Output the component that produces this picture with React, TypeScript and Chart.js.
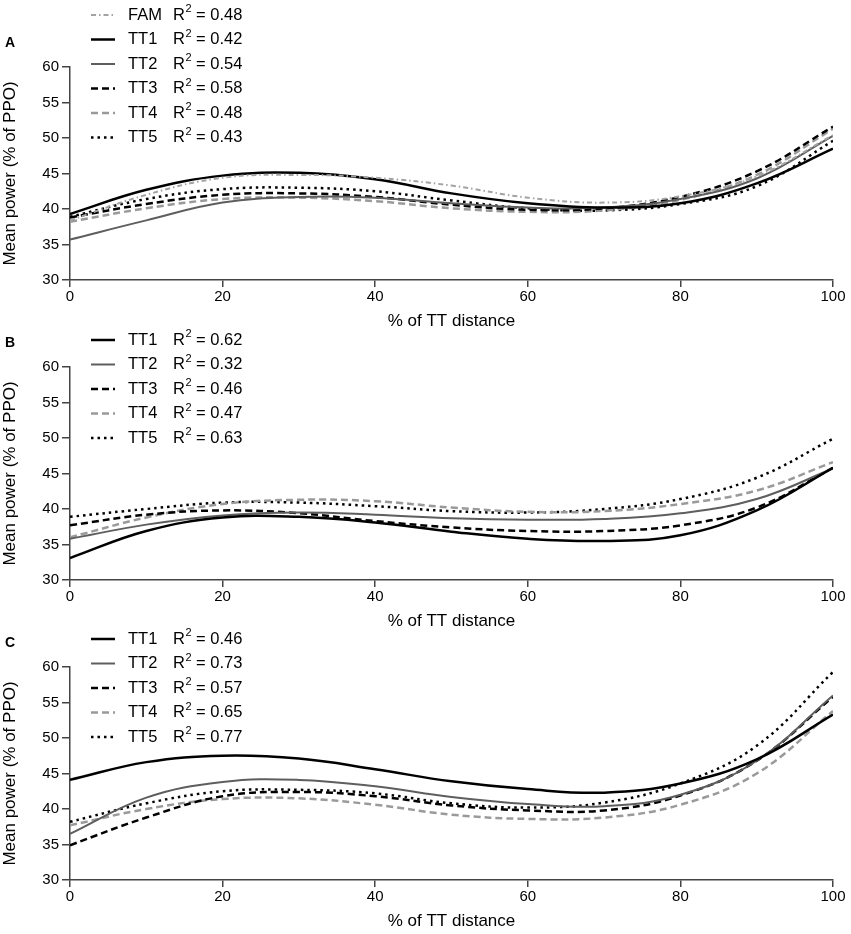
import React, { useEffect, useRef } from 'react';
import { Chart, registerables } from 'chart.js';

Chart.register(...registerables);

// % of TT distance where curve values were read
const xPct = [0, 10, 20, 30, 40, 50, 60, 70, 80, 90, 100];

// panel A
const namesA = ['FAM', 'TT1', 'TT2', 'TT3', 'TT4', 'TT5'];
const r2A = ['0.48', '0.42', '0.54', '0.58', '0.48', '0.43'];
const aFAM = [38.4, 42.0, 44.4, 44.8, 44.4, 43.3, 41.6, 40.9, 41.8, 44.6, 50.4];
const aTT1 = [39.3, 42.7, 44.7, 45.1, 44.2, 42.2, 40.8, 40.2, 40.8, 43.6, 48.5];
const aTT2 = [35.7, 38.4, 40.9, 41.7, 41.6, 40.8, 40.2, 40.2, 41.4, 44.3, 50.3];
const aTT3 = [38.8, 40.7, 42.0, 42.2, 41.7, 40.6, 39.9, 40.1, 41.7, 45.3, 51.6];
const aTT4 = [38.2, 40.1, 41.4, 41.6, 41.1, 40.1, 39.6, 39.8, 41.3, 44.8, 51.3];
const aTT5 = [38.9, 41.4, 42.8, 43.0, 42.5, 41.2, 40.1, 39.8, 40.7, 43.2, 49.6];

// panel B
const namesB = ['TT1', 'TT2', 'TT3', 'TT4', 'TT5'];
const r2B = ['0.62', '0.32', '0.46', '0.47', '0.63'];
const bTT1 = [33.1, 36.9, 38.8, 38.9, 38.1, 36.8, 35.8, 35.5, 36.3, 39.8, 45.8];
const bTT2 = [35.8, 37.8, 39.1, 39.5, 39.2, 38.7, 38.5, 38.6, 39.4, 41.4, 45.7];
const bTT3 = [37.7, 39.2, 39.8, 39.4, 38.3, 37.4, 36.9, 36.9, 37.7, 40.2, 45.8];
const bTT4 = [36.0, 38.8, 40.7, 41.3, 41.1, 40.2, 39.6, 39.7, 40.7, 42.6, 46.6];
const bTT5 = [38.9, 40.0, 40.9, 40.9, 40.4, 39.7, 39.5, 40.0, 41.4, 44.4, 49.9];

// panel C
const namesC = ['TT1', 'TT2', 'TT3', 'TT4', 'TT5'];
const r2C = ['0.46', '0.73', '0.57', '0.65', '0.77'];
const cTT1 = [44.1, 46.6, 47.5, 47.1, 45.6, 43.9, 42.8, 42.3, 43.6, 47.0, 53.3];
const cTT2 = [36.5, 41.6, 43.8, 44.1, 43.2, 41.7, 40.7, 40.4, 42.0, 46.8, 56.0];
const cTT3 = [34.9, 38.8, 41.8, 42.4, 41.8, 40.5, 39.8, 39.8, 41.9, 46.8, 55.8];
const cTT4 = [37.7, 40.0, 41.4, 41.5, 40.6, 39.2, 38.6, 38.8, 40.6, 45.0, 53.8];
const cTT5 = [38.2, 40.8, 42.5, 42.7, 42.2, 40.8, 40.2, 40.9, 43.6, 48.9, 59.3];

const lineStyles: Record<string, { color: string; width: number; dash: number[] }> = {
  FAM: { color: '#a3a3a3', width: 2, dash: [5, 3, 1.5, 3] },
  TT1: { color: '#000000', width: 2.5, dash: [] },
  TT2: { color: '#5e5e5e', width: 2, dash: [] },
  TT3: { color: '#000000', width: 2.5, dash: [7, 4] },
  TT4: { color: '#9a9a9a', width: 2.5, dash: [7, 4] },
  TT5: { color: '#000000', width: 2.5, dash: [2.5, 4] },
};

const FONT = '"Liberation Sans", Arial, Helvetica, sans-serif';

// legend drawn on the canvas so the dash patterns show
const panelLegend = {
  id: 'panelLegend',
  afterDraw(chart: any, _args: any, opts: any) {
    const { ctx } = chart;
    ctx.save();
    ctx.textBaseline = 'middle';
    ctx.textAlign = 'left';
    ctx.fillStyle = '#000';
    ctx.font = `bold 14px ${FONT}`;
    ctx.fillText(opts.letter, 5, 43);
    chart.data.datasets.forEach((ds: any, i: number) => {
      const y = opts.top + i * 24.5;
      ctx.strokeStyle = ds.borderColor;
      ctx.lineWidth = ds.borderWidth;
      ctx.setLineDash(ds.borderDash || []);
      ctx.beginPath();
      ctx.moveTo(91, y);
      ctx.lineTo(115, y);
      ctx.stroke();
      ctx.setLineDash([]);
      ctx.fillStyle = '#000';
      ctx.font = `16.5px ${FONT}`;
      ctx.fillText(ds.label, 128, y);
      ctx.fillText('R', 173, y);
      const w = ctx.measureText('R').width;
      ctx.font = `11px ${FONT}`;
      ctx.fillText('2', 173 + w + 0.5, y - 6);
      ctx.font = `16.5px ${FONT}`;
      ctx.fillText(' = ' + opts.r2[i], 173 + w + 6.5, y);
    });
    ctx.restore();
  },
};

type PanelProps = { letter: string; names: string[]; r2: string[]; series: number[][]; legendTop: number };

const Panel: React.FC<PanelProps> = ({ letter, names, r2, series, legendTop }) => {
  const ref = useRef<HTMLCanvasElement>(null);

  useEffect(() => {
    if (!ref.current) return;
    const chart = new Chart(ref.current, {
      type: 'line',
      data: {
        datasets: names.map((n, i) => ({
          label: n,
          data: xPct.map((x, j) => ({ x, y: series[i][j] })),
          borderColor: lineStyles[n].color,
          borderWidth: lineStyles[n].width,
          borderDash: lineStyles[n].dash,
          pointRadius: 0,
          fill: false,
          tension: 0.4,
        })),
      },
      options: {
        animation: false,
        responsive: true,
        maintainAspectRatio: false,
        layout: { padding: { top: 67, left: 0, right: 18, bottom: 0 } },
        plugins: {
          legend: { display: false },
          tooltip: { enabled: false },
          panelLegend: { letter, r2, top: legendTop },
        } as any,
        scales: {
          x: {
            type: 'linear',
            min: 0,
            max: 100,
            afterFit: (s: any) => { s.height = 54; },
            ticks: { stepSize: 20, color: '#000', padding: 1, font: { family: FONT, size: 15 } },
            grid: { drawOnChartArea: false, drawTicks: true, tickLength: 7, color: '#444', lineWidth: 1.5 },
            border: { display: true, color: '#444', width: 1.5 },
            title: { display: true, text: '% of TT distance', color: '#000', padding: { top: 0, bottom: 2 }, font: { family: FONT, size: 17 } },
          },
          y: {
            min: 30,
            max: 60,
            afterFit: (s: any) => { s.width = 70; },
            ticks: { stepSize: 5, color: '#000', padding: 3, font: { family: FONT, size: 15 } },
            grid: { drawOnChartArea: false, drawTicks: true, tickLength: 8, color: '#444', lineWidth: 1.5 },
            border: { display: true, color: '#444', width: 1.5 },
            title: { display: true, text: 'Mean power (% of PPO)', color: '#000', padding: { top: 0, bottom: 0 }, font: { family: FONT, size: 17 } },
          },
        },
      },
      plugins: [panelLegend],
    });
    return () => chart.destroy();
  }, [letter, names, r2, series, legendTop]);

  return <canvas ref={ref}></canvas>;
};

const App: React.FC = () => {
  useEffect(() => {
    document.body.style.margin = '0';
    document.body.style.background = '#fff';
  }, []);

  const panels = [
    { letter: 'A', names: namesA, r2: r2A, series: [aFAM, aTT1, aTT2, aTT3, aTT4, aTT5], legendTop: 15 },
    { letter: 'B', names: namesB, r2: r2B, series: [bTT1, bTT2, bTT3, bTT4, bTT5], legendTop: 40 },
    { letter: 'C', names: namesC, r2: r2C, series: [cTT1, cTT2, cTT3, cTT4, cTT5], legendTop: 39 },
  ];

  return (
    <div style={{ position: 'relative', width: 851, height: 934, background: '#fff' }}>
      {panels.map((p, i) => (
        <div key={p.letter} style={{ position: 'absolute', left: 0, top: i * 300, width: 851, height: 334 }}>
          <Panel {...p} />
        </div>
      ))}
    </div>
  );
};

export default App;
